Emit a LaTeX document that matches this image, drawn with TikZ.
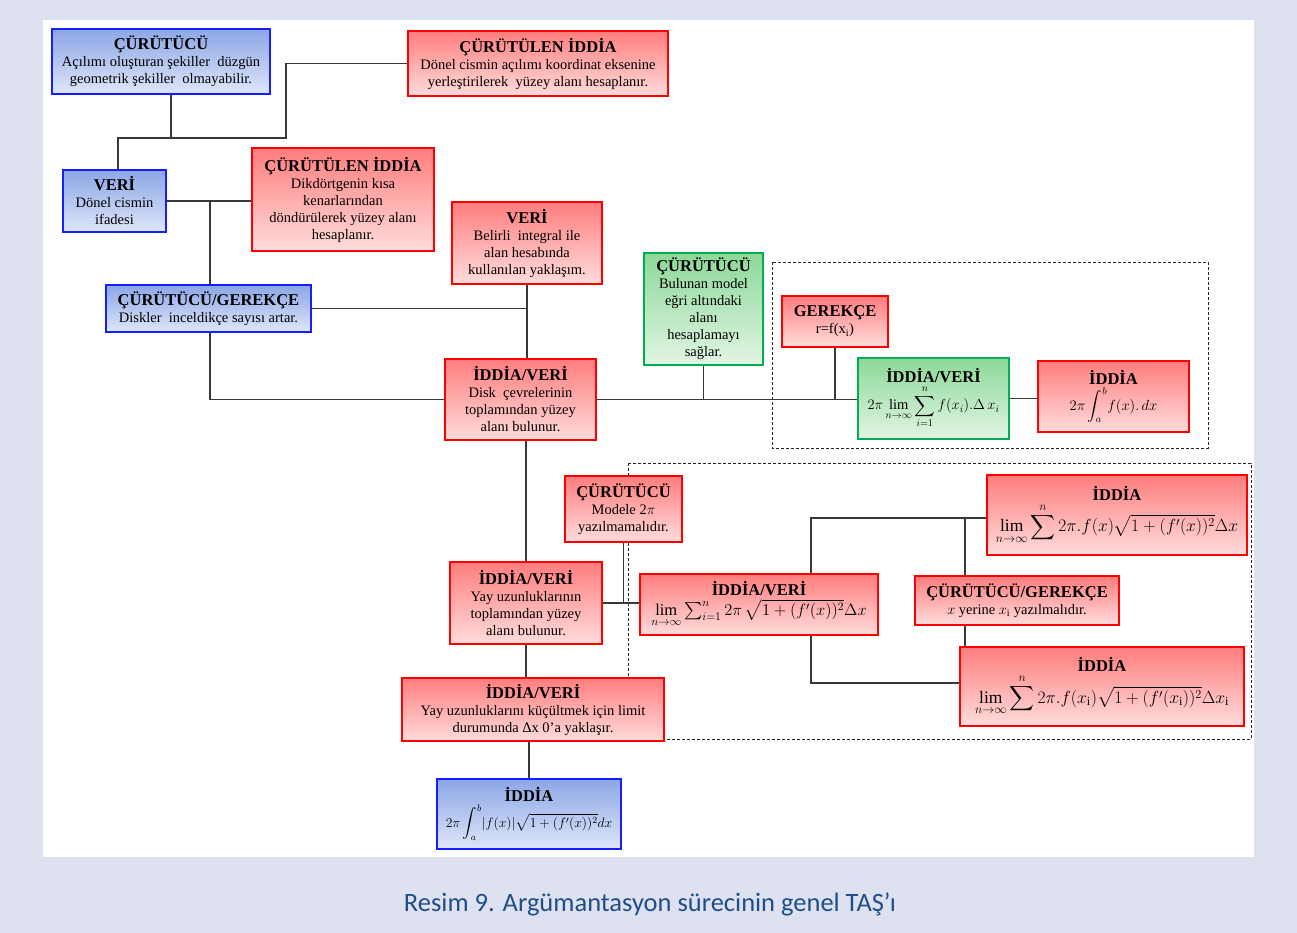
\documentclass[tikz,border=0pt]{standalone}
\usepackage{fix-cm}
\usepackage{amsmath}
\usepackage{fontspec}
\setmainfont{Liberation Serif}
\newfontfamily\capfont{Carlito}
\definecolor{bgl}{RGB}{221,225,240}
\definecolor{capblue}{RGB}{31,78,137}
\definecolor{bluebd}{RGB}{20,30,255}
\definecolor{bluetop}{RGB}{140,166,230}
\definecolor{bluebot}{RGB}{222,230,248}
\definecolor{redbd}{RGB}{255,0,0}
\definecolor{redtop}{RGB}{255,125,125}
\definecolor{redbot}{RGB}{255,220,220}
\definecolor{greenbd}{RGB}{0,176,80}
\definecolor{greentop}{RGB}{140,216,152}
\definecolor{greenbot}{RGB}{226,245,228}
\newcommand\hd[1]{{\fontsize{16.5}{18}\selectfont\bfseries #1}}
\newcommand\bodyfnt{\fontsize{14.5}{17}\selectfont}
\newcommand\mfnt[1]{\fontsize{#1}{#1}\selectfont}
\tikzset{
  box/.style={draw, line width=2.2pt, inner sep=1pt, align=center, font=\bodyfnt},
  bluebox/.style={box, draw=bluebd, top color=bluetop, bottom color=bluebot},
  redbox/.style={box, draw=redbd, top color=redtop, bottom color=redbot},
  greenbox/.style={box, draw=greenbd, top color=greentop, bottom color=greenbot},
  link/.style={draw=black!78, line width=1.1pt},
  grp/.style={draw=black!85, dash pattern=on 3pt off 2pt, line width=0.9pt}
}
\begin{document}
\begin{tikzpicture}[x=1pt,y=-1pt]
\useasboundingbox (0,0) rectangle (1297,933);
\fill[bgl] (0,0) rectangle (1297,933);
\fill[white] (43,20) rectangle (1254,857);

% dashed groups
\draw[grp] (772,262) rectangle (1208,448);
\draw[grp] (628,463) rectangle (1251,739);

% boxes
\node[bluebox, minimum width=218pt, minimum height=65pt] (b1) at (161,61.5)
  {\hd{ÇÜRÜTÜCÜ}\\Açılımı oluşturan şekiller\ \ düzgün\\geometrik şekiller\ \ olmayabilir.};
\node[redbox, minimum width=260pt, minimum height=65pt] (b2) at (538,63.5)
  {\hd{ÇÜRÜTÜLEN İDDİA}\\Dönel cismin açılımı koordinat eksenine\\yerleştirilerek\ \ yüzey alanı hesaplanır.};
\node[bluebox, minimum width=103pt, minimum height=62pt] (b3) at (114.5,201)
  {\hd{VERİ}\\Dönel cismin\\ifadesi};
\node[redbox, minimum width=182pt, minimum height=103pt] (b4) at (343,199.5)
  {\hd{ÇÜRÜTÜLEN İDDİA}\\Dikdörtgenin kısa\\kenarlarından\\döndürülerek yüzey alanı\\hesaplanır.};
\node[redbox, minimum width=150pt, minimum height=82pt] (b5) at (527,243)
  {\hd{VERİ}\\Belirli\ \ integral ile\\alan hesabında\\kullanılan yaklaşım.};
\node[bluebox, minimum width=205pt, minimum height=47pt] (b6) at (208.5,308.5)
  {\hd{ÇÜRÜTÜCÜ/GEREKÇE}\\Diskler\ \ inceldikçe sayısı artar.};
\node[greenbox, minimum width=119pt, minimum height=112pt] (b7) at (703.5,309)
  {\hd{ÇÜRÜTÜCÜ}\\Bulunan model\\eğri altındaki\\alanı\\hesaplamayı\\sağlar.};
\node[redbox, minimum width=106pt, minimum height=51pt] (b8) at (835,321.5)
  {\hd{GEREKÇE}\\r=f(x\textsubscript{i})};
\node[greenbox, minimum width=151pt, minimum height=81pt, font=\mfnt{14.5}] (b9) at (933.5,398.5)
  {\hd{İDDİA/VERİ}\\[2pt]$\displaystyle 2\pi\lim_{n\to\infty}\sum_{i=1}^{n} f(x_i).\Delta\, x_i$};
\node[redbox, minimum width=151pt, minimum height=71pt, font=\mfnt{14.7}] (b10) at (1113.5,396.5)
  {\hd{İDDİA}\\[2pt]$\displaystyle 2\pi\int_a^b\! f(x).\,dx$};
\node[redbox, minimum width=151pt, minimum height=81pt] (b11) at (520.5,399.5)
  {\hd{İDDİA/VERİ}\\Disk\ \ çevrelerinin\\toplamından yüzey\\alanı bulunur.};
\node[redbox, minimum width=117pt, minimum height=66pt] (b12) at (623.5,509)
  {\hd{ÇÜRÜTÜCÜ}\\Modele 2$\pi$\\yazılmamalıdır.};
\node[redbox, minimum width=260pt, minimum height=80pt, font=\mfnt{17.5}] (b13) at (1117,515)
  {\hd{İDDİA}\\[2pt]$\displaystyle\lim_{n\to\infty}\sum^{n} 2\pi.f(x)\sqrt{1+(f'(x))^2}\Delta x$};
\node[redbox, minimum width=152pt, minimum height=82pt] (b14) at (526,603)
  {\hd{İDDİA/VERİ}\\Yay uzunluklarının\\toplamından yüzey\\alanı bulunur.};
\node[redbox, minimum width=238pt, minimum height=61pt, font=\mfnt{16.5}] (b15) at (759,604.5)
  {\hd{İDDİA/VERİ}\\[3pt]$\lim\limits_{n\to\infty}\sum_{i=1}^{n} 2\pi\,\sqrt{1+(f'(x))^2}\Delta x$};
\node[redbox, minimum width=204pt, minimum height=49pt] (b16) at (1017,600.5)
  {\hd{ÇÜRÜTÜCÜ/GEREKÇE}\\$x$ yerine $x_{\mathrm{i}}$ yazılmalıdır.};
\node[redbox, minimum width=284pt, minimum height=79pt, font=\mfnt{17.5}] (b17) at (1102,686.5)
  {\hd{İDDİA}\\[2pt]$\displaystyle\lim_{n\to\infty}\sum^{n} 2\pi.f(x_{\mathrm{i}})\sqrt{1+(f'(x_{\mathrm{i}}))^2}\Delta x_{\mathrm{i}}$};
\node[redbox, minimum width=262pt, minimum height=63pt] (b18) at (533,709.5)
  {\hd{İDDİA/VERİ}\\Yay uzunluklarını küçültmek için limit\\durumunda Δx 0’a yaklaşır.};
\node[bluebox, minimum width=184pt, minimum height=70pt, font=\mfnt{13.6}] (b19) at (529,814)
  {\hd{İDDİA}\\[2pt]$\displaystyle 2\pi\int_a^b\!|f(x)|\sqrt{1+(f'(x))^2}dx$};

% junction coordinates
\coordinate (jA) at (118,138);
\coordinate (j1) at (171,138);
\coordinate (jB) at (286,138);
\coordinate (jC) at (210,0);
\coordinate (jD) at (811,518);
\coordinate (jE) at (965,518);
\coordinate (jF) at (811,683);

% connectors
\draw[link] (b1.south -| j1) -- (j1);
\draw[link] (b3.north -| jA) -- (jA) -- (jB) |- (b2.west);
\draw[link] (b3.east) -- (b3.east -| b4.west);
\draw[link] (b3.east -| jC) -- (b6.north -| jC);
\draw[link] (b6.south -| jC) |- (b11.west);
\draw[link] (b6.east) -- (b6.east -| b5.south);
\draw[link] (b5.south) -- (b5.south |- b11.north);
\draw[link] (b11.east) -- (b11.east -| b9.west);
\draw[link] (b7.south) -- (b7.south |- b11.east);
\draw[link] (b8.south) -- (b8.south |- b11.east);
\draw[link] (b9.east) -- (b9.east -| b10.west);
\draw[link] (b14.north) -- (b14.north |- b11.south);
\draw[link] (b14.east) -- (b14.east -| b15.west);
\draw[link] (b12.south) -- (b12.south |- b14.east);
\draw[link] (b15.north -| jD) -- (jD) -- (jD -| b13.west);
\draw[link] (jE) -- (b16.north -| jE);
\draw[link] (b16.south -| jE) -- (b17.north -| jE);
\draw[link] (b15.south -| jF) -- (jF) -- (jF -| b17.west);
\draw[link] (b14.south) -- (b14.south |- b18.north);
\draw[link] (b19.north) -- (b19.north |- b18.south);

% caption
\node[font=\capfont\fontsize{26.5}{30}\selectfont, text=capblue] (cap) at (650,904)
  {Resim 9. Argümantasyon sürecinin genel TAŞ’ı};
\end{tikzpicture}
\end{document}
